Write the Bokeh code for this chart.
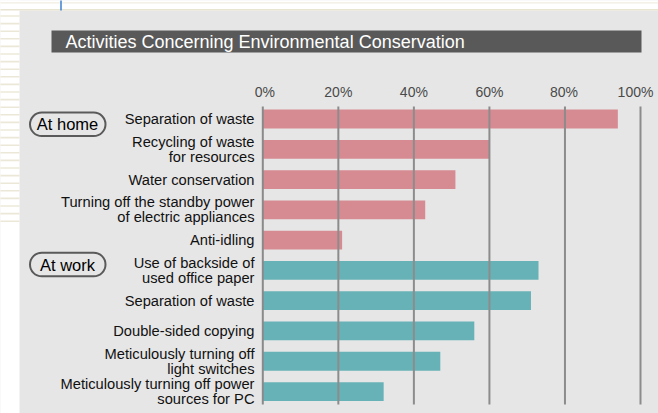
import numpy as np
from bokeh.plotting import figure
from bokeh.models import Range1d, ColumnDataSource
from bokeh.core.properties import value
from bokeh.embed import file_html
from bokeh.resources import INLINE

# ---------------- data ----------------
title = "Activities Concerning Environmental Conservation"
groups = ["At home", "At work"]
home_items = [
    "Separation of waste",
    "Recycling of waste\nfor resources",
    "Water conservation",
    "Turning off the standby power\nof electric appliances",
    "Anti-idling",
]
home_values = [94, 60, 51, 43, 21]
work_items = [
    "Use of backside of\nused office paper",
    "Separation of waste",
    "Double-sided copying",
    "Meticulously turning off\nlight switches",
    "Meticulously turning off power\nsources for PC",
]
work_values = [73, 71, 56, 47, 32]
ticks = [0, 20, 40, 60, 80, 100]
tick_labels = ["0%", "20%", "40%", "60%", "80%", "100%"]
group_colors = ["#d68b92", "#67b2b7"]

# ---------------- layout ----------------
W, H = 658, 413
OFF = 0
X0PX, PXPCT = 262.3, 3.777   # pixel of 0% and pixels per percent
Y0PX, PXROW = 118.5, 30.28   # pixel of first row centre and pixels per row

def fx(xr):
    return (xr - OFF - X0PX) / PXPCT

def fy(yr):
    return (yr - OFF - Y0PX) / PXROW

FONT = value("Liberation Sans")

p = figure(width=W, height=H,
           x_range=Range1d(-X0PX / PXPCT, (W - X0PX) / PXPCT),
           y_range=Range1d((H - Y0PX) / PXROW, -Y0PX / PXROW),
           output_backend="svg", toolbar_location=None,
           x_axis_type=None, y_axis_type=None, min_border=0,
           background_fill_color="#e6e6e6", border_fill_color="#e6e6e6",
           outline_line_color=None)

# page decoration: white margins with beige stripes
p.quad(left=fx(-5), right=fx(19), top=fy(-5), bottom=fy(420),
       fill_color="white", line_color=None)
p.quad(left=fx(-5), right=fx(700), top=fy(-5), bottom=fy(10),
       fill_color="white", line_color=None)
stripe_y = [15.5 + 7.6 * k for k in range(28) if 15.5 + 7.6 * k <= 222]
p.segment(x0=fx(-5), x1=fx(19), y0=[fy(v) for v in stripe_y], y1=[fy(v) for v in stripe_y],
          line_color="#ece8d8", line_width=1.6)
p.segment(x0=fx(-5), x1=fx(700), y0=fy(9.3), y1=fy(9.3), line_color="#e8e4d2", line_width=1.6)
p.segment(x0=fx(-5), x1=fx(700), y0=fy(2.3), y1=fy(2.3), line_color="#f0ede2", line_width=1.2)
p.segment(x0=fx(60.5), x1=fx(60.5), y0=fy(-2), y1=fy(10), line_color="#3c7fd0", line_width=1.5)

# title bar
p.quad(left=fx(51), right=fx(641), top=fy(30), bottom=fy(52),
       fill_color="#595959", line_color=None)
p.text(x=[fx(65)], y=[fy(41.5)], text=[title], text_color="white",
       text_font=FONT, text_font_size="18px", text_align="left",
       text_baseline="middle")

# bars
items = home_items + work_items
vals = home_values + work_values
colors = [group_colors[0]] * len(home_items) + [group_colors[1]] * len(work_items)
rows = np.arange(len(items))
src = ColumnDataSource(dict(y=rows, v=vals, c=colors, label=items))
p.hbar(y="y", left=0, right="v", height=0.62, fill_color="c", line_color=None, source=src)

# grid lines (drawn over bars)
g_top, g_bot = fy(106), fy(404)
p.segment(x0=ticks[1:], x1=ticks[1:], y0=g_top, y1=g_bot, line_color="#8c8c8c", line_width=2)
p.segment(x0=[0], x1=[0], y0=g_top, y1=g_bot, line_color="#8a8a8a", line_width=2)

# tick labels
tick_src = ColumnDataSource(dict(x=ticks, y=[fy(91)] * len(ticks), t=tick_labels,
                                 dx=[2, 0, 0, 0, -1, -5]))
p.text(x="x", y="y", text="t", x_offset="dx", source=tick_src, text_color="#4a4a4a",
       text_font=FONT, text_font_size="14px", text_align="center", text_baseline="middle")

# category labels
p.text(x=fx(254), y="y", text="label", source=src, text_color="#111111",
       text_font=FONT, text_font_size="14.7px", text_align="right",
       text_baseline="middle", text_line_height=0.92)

# group pills
pill_centres = [fy(123.8), fy(264)]
half_h = 11.8 / PXROW
p.quad(left=fx(29.5), right=fx(105), top=[c - half_h for c in pill_centres],
       bottom=[c + half_h for c in pill_centres], fill_color=None,
       line_color="#5a5a5a", line_width=2, border_radius=12)
p.text(x=[fx(67)] * 2, y=pill_centres, text=groups, text_color="#000000",
       text_font=FONT, text_font_size="16.5px", text_align="center",
       text_baseline="middle")

open("out.html", "w").write(file_html(p, INLINE))
